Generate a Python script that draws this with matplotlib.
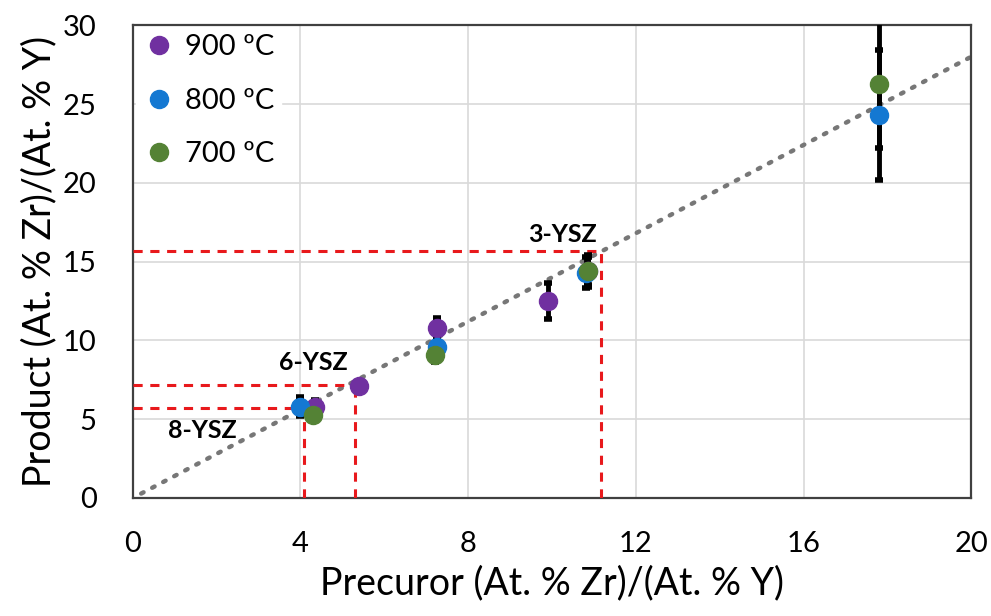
import numpy as np
import matplotlib
matplotlib.use("Agg")
import matplotlib.pyplot as plt

plt.rcParams['font.family'] = ['Lato', 'DejaVu Sans']

# measured points per calcination temperature
x_900 = [4.35, 5.4, 7.25, 9.9, 10.85]
y_900 = [5.8, 7.1, 10.8, 12.5, 14.4]
e_900 = [0.4, 0.0, 0.6, 1.15, 1.0]

x_800 = [4.0, 7.25, 10.8, 17.8]
y_800 = [5.8, 9.6, 14.3, 24.3]
e_800 = [0.6, 0.5, 1.0, 4.1]

x_700 = [4.3, 7.2, 10.85, 17.8]
y_700 = [5.25, 9.1, 14.4, 26.3]
e_700 = [0.3, 0.5, 0.9, 4.1]

# linear trend
slope = 1.4
trend_x = [0.2, 20]

# reference compositions
ref_names = ["8-YSZ", "6-YSZ", "3-YSZ"]
ref_x = [4.08, 5.31, 11.16]
ref_y = [5.7, 7.2, 15.7]
ref_label_pos = [(1.65, 4.3), (4.3, 8.6), (10.25, 16.75)]

c900 = "#7030A0"
c800 = "#1478D2"
c700 = "#548235"

fig = plt.figure(figsize=(9.91, 6.16), dpi=100)
ax = fig.add_axes([0.134, 0.1916, 0.846, 0.7674])

ax.grid(color="#d9d9d9", linewidth=1.2)
ax.set_axisbelow(True)

tx = np.array(trend_x)
ax.plot(tx, slope * tx, linestyle=(0, (0.6, 2.2)), color="#777777",
        linewidth=3.2, dash_capstyle="round", zorder=2)

for rx, ry in zip(ref_x, ref_y):
    ax.plot([0, rx], [ry, ry], color="#e8191c", linestyle=(0, (3, 2.5)),
            linewidth=2.2, zorder=3)
    ax.plot([rx, rx], [0, ry], color="#e8191c", linestyle=(0, (3, 2.5)),
            linewidth=2.2, zorder=3)

for name, (lx, ly) in zip(ref_names, ref_label_pos):
    ax.text(lx, ly, name, ha="center", va="center", fontsize=18,
            fontweight="bold", zorder=6)

series = [(x_900, y_900, e_900, c900, "900 ºC"),
          (x_800, y_800, e_800, c800, "800 ºC"),
          (x_700, y_700, e_700, c700, "700 ºC")]
for xs, ys, es, col, lab in series:
    ax.errorbar(xs, ys, yerr=es, fmt="none", ecolor="black", elinewidth=3.5,
                capsize=3, capthick=4, zorder=4)
for xs, ys, es, col, lab in series:
    ax.plot(xs, ys, "o", color=col, markersize=13, label=lab, zorder=5)

ax.set_xlim(0, 20)
ax.set_ylim(0, 30)
ax.set_xticks([0, 4, 8, 12, 16, 20])
ax.set_yticks([0, 5, 10, 15, 20, 25, 30])
ax.tick_params(length=0, labelsize=21)
ax.tick_params(axis="x", pad=24)
ax.tick_params(axis="y", pad=26)
for s in ax.spines.values():
    s.set_color("#404040")
    s.set_linewidth(1.6)

ax.set_xlabel("Precuror (At. % Zr)/(At. % Y)", fontsize=27, labelpad=6)
ax.set_ylabel("Product (At. % Zr)/(At. % Y)", fontsize=27, labelpad=4)

leg = ax.legend(loc="upper left", fontsize=21, frameon=True, framealpha=1,
                edgecolor="white", fancybox=False, handletextpad=0.3,
                borderaxespad=0.1, labelspacing=0.95, borderpad=0.2,
                markerscale=1.0, handlelength=1.2)
leg.set_zorder(7)

fig.savefig("out.png", dpi=100)
